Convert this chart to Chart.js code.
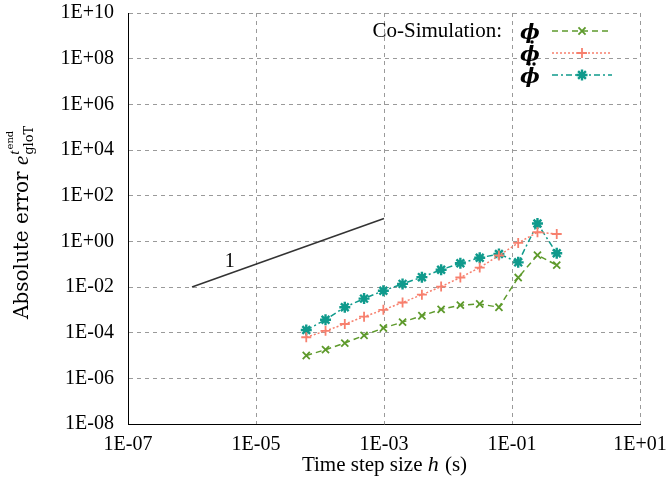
<!DOCTYPE html>
<html>
<head>
<meta charset="utf-8">
<script src="https://cdn.jsdelivr.net/npm/chart.js@4/dist/chart.umd.min.js"></script>
<style>
html,body{margin:0;padding:0;background:#fff;}
#wrap{width:667px;height:490px;}
</style>
</head>
<body>
<div id="wrap"><canvas id="c" width="667" height="490"></canvas></div>
<script>
// ---- data ----
const stepSizes = [6.1e-5, 1.22e-4, 2.44e-4, 4.88e-4, 9.77e-4, 1.95e-3, 3.91e-3, 7.81e-3, 1.56e-2, 3.13e-2, 6.25e-2, 0.125, 0.25, 0.5];
const errPhi    = [1.0e-5, 1.8e-5, 3.5e-5, 7.6e-5, 1.6e-4, 2.9e-4, 5.5e-4, 1.05e-3, 1.6e-3, 1.8e-3, 1.3e-3, 0.026, 0.25, 0.091];
const errPhiD   = [6.3e-5, 1.2e-4, 2.4e-4, 5.0e-4, 1.0e-3, 2.1e-3, 4.6e-3, 0.0104, 0.026, 0.071, 0.24, 0.85, 2.5, 2.1];
const errPhiDD  = [1.3e-4, 3.7e-4, 1.3e-3, 3.1e-3, 6.9e-3, 0.0137, 0.027, 0.057, 0.11, 0.19, 0.28, 0.12, 6.0, 0.30];
const slopeX    = [1e-6, 1e-3];
const slopeY    = [1e-2, 1e1];
const slopeLabel = {x: 3.9e-6, y: 0.13, text: '1'};
const seriesNames = ['\u03D5', '\u03D5', '\u03D5'];
const seriesDots = [0, 1, 2];
const legendTitle = 'Co-Simulation:';
const xTicks = [1e-7, 1e-5, 1e-3, 1e-1, 1e1];
const xTickLabels = ['1E-07', '1E-05', '1E-03', '1E-01', '1E+01'];
const yTicks = [1e-8, 1e-6, 1e-4, 1e-2, 1e0, 1e2, 1e4, 1e6, 1e8, 1e10];
const yTickLabels = ['1E-08', '1E-06', '1E-04', '1E-02', '1E+00', '1E+02', '1E+04', '1E+06', '1E+08', '1E+10'];

const FONT = "'Liberation Serif', 'DejaVu Serif', serif";
const FONT2 = "'DejaVu Serif', 'Liberation Serif', serif";
const toPts = (xs, ys) => xs.map((x, i) => ({x: x, y: ys[i]}));

const colors = ['#5e9a2c', '#f7806e', '#0f9a8c'];

const datasets = [
  {label: seriesNames[0], data: toPts(stepSizes, errPhi), borderColor: colors[0], backgroundColor: colors[0],
   borderDash: [6, 4], borderWidth: 1.5, pointStyle: 'crossRot', pointRadius: 5, pointBorderWidth: 1.8, pointBorderColor: colors[0]},
  {label: seriesNames[1], data: toPts(stepSizes, errPhiD), borderColor: colors[1], backgroundColor: colors[1],
   borderDash: [2, 2], borderWidth: 1.5, pointStyle: 'cross', pointRadius: 5, pointBorderWidth: 1.8, pointBorderColor: colors[1]},
  {label: seriesNames[2], data: toPts(stepSizes, errPhiDD), borderColor: colors[2], backgroundColor: colors[2],
   borderDash: [6, 3, 2, 3], borderWidth: 1.5, pointStyle: 'star', pointRadius: 5.5, pointBorderWidth: 2.4, pointBorderColor: colors[2]},
  {label: 'slope', data: toPts(slopeX, slopeY), borderColor: '#333333', borderWidth: 1.5, pointRadius: 0}
];

function drawMarker(ctx, ds, x, y) {
  const opts = {pointStyle: ds.pointStyle, radius: ds.pointRadius, rotation: 0, borderWidth: ds.pointBorderWidth};
  ctx.save();
  ctx.strokeStyle = ds.pointBorderColor; ctx.fillStyle = ds.backgroundColor; ctx.lineWidth = ds.pointBorderWidth;
  ctx.setLineDash([]);
  Chart.helpers.drawPoint(ctx, opts, x, y);
  ctx.restore();
}

const textPlugin = {
  id: 'textPlugin',
  afterDraw(chart) {
    const ctx = chart.ctx;
    const xs = chart.scales.x, ys = chart.scales.y;
    ctx.save();
    ctx.fillStyle = '#000';
    // slope label
    ctx.font = '20px ' + FONT;
    ctx.textAlign = 'center'; ctx.textBaseline = 'middle';
    ctx.fillText(slopeLabel.text, xs.getPixelForValue(slopeLabel.x), ys.getPixelForValue(slopeLabel.y));

    // x title
    const xt1 = 'Time step size ', xt2 = 'h', xt3 = ' (s)';
    ctx.textBaseline = 'alphabetic'; ctx.textAlign = 'left';
    ctx.font = '21px ' + FONT; const w1 = ctx.measureText(xt1).width, w3 = ctx.measureText(xt3).width;
    ctx.font = 'italic 22px ' + FONT; const w2 = ctx.measureText(xt2).width;
    let cx = (xs.left + xs.right) / 2 - (w1 + w2 + w3) / 2;
    const by = 471;
    ctx.font = '21px ' + FONT; ctx.fillText(xt1, cx, by); cx += w1;
    ctx.font = 'italic 22px ' + FONT; ctx.fillText(xt2, cx, by); cx += w2 + 1;
    ctx.font = '21px ' + FONT; ctx.fillText(xt3, cx, by);

    // y title (rotated)
    ctx.save();
    ctx.translate(28, 319);
    ctx.rotate(-Math.PI / 2);
    const a = 'Absolute error ';
    ctx.font = '20px ' + FONT2; const wa = ctx.measureText(a).width;
    let px = 0;
    ctx.fillText(a, px, 0); px += wa;
    ctx.font = 'italic 21px ' + FONT; const we = ctx.measureText('e').width;
    ctx.fillText('e', px, 0); px += we + 1;
    ctx.font = '13px ' + FONT2; ctx.fillText('gloT', px, 5);
    ctx.font = 'italic 15px ' + FONT; ctx.fillText('t', px, -9);
    const wt = ctx.measureText('t').width;
    ctx.font = '10px ' + FONT2; ctx.fillText('end', px + wt + 1, -15);
    ctx.restore();

    // legend
    ctx.font = '21px ' + FONT;
    ctx.textAlign = 'right'; ctx.textBaseline = 'middle';
    ctx.fillText(legendTitle, 502, 31);
    const rows = [31, 53, 75];
    for (let i = 0; i < 3; i++) {
      const ds = chart.data.datasets[i];
      ctx.font = 'italic bold 21px ' + FONT2;
      ctx.textAlign = 'center'; ctx.textBaseline = 'middle';
      ctx.fillText(ds.label, 530, rows[i] + 3);
      const nd = seriesDots[i];
      for (let k = 0; k < nd; k++) {
        const dx = nd === 1 ? 532 : 529 + k * 5;
        ctx.beginPath(); ctx.arc(dx, rows[i] - 11, 1.7, 0, Math.PI * 2); ctx.fill();
      }
      ctx.save();
      ctx.strokeStyle = ds.borderColor; ctx.lineWidth = ds.borderWidth;
      ctx.setLineDash(ds.borderDash);
      ctx.beginPath(); ctx.moveTo(552, rows[i]); ctx.lineTo(612, rows[i]); ctx.stroke();
      ctx.restore();
      drawMarker(ctx, ds, 582, rows[i]);
    }
    ctx.restore();
  }
};

function zeroPad(s) { s.paddingTop = 0; s.paddingBottom = 0; s.paddingLeft = 0; s.paddingRight = 0; }

const gridCfg = {color: '#9a9a9a', lineWidth: 1, drawTicks: false};
new Chart(document.getElementById('c'), {
  type: 'line',
  data: {datasets: datasets},
  plugins: [textPlugin],
  options: {
    responsive: false,
    animation: false,
    layout: {padding: {top: 13, right: 27, left: 0, bottom: 0}},
    plugins: {legend: {display: false}, tooltip: {enabled: false}},
    scales: {
      x: {
        type: 'logarithmic', min: 1e-7, max: 1e1,
        afterBuildTicks: s => { s.ticks = xTicks.map(v => ({value: v})); },
        afterFit: s => { s.height = 66; zeroPad(s); },
        ticks: {autoSkip: false, maxRotation: 0, padding: 9, color: '#000', font: {family: FONT, size: 20},
                callback: (v) => { const i = xTicks.indexOf(v); return i >= 0 ? xTickLabels[i] : ''; }},
        grid: gridCfg,
        border: {display: true, color: '#000', width: 1, dash: [4, 4]},
      },
      y: {
        type: 'logarithmic', min: 1e-8, max: 1e10,
        afterBuildTicks: s => { s.ticks = yTicks.map(v => ({value: v})); },
        afterFit: s => { s.width = 128; zeroPad(s); },
        ticks: {autoSkip: false, padding: 14, color: '#000', font: {family: FONT, size: 20},
                callback: (v) => { const i = yTicks.indexOf(v); return i >= 0 ? yTickLabels[i] : ''; }},
        grid: gridCfg,
        border: {display: true, color: '#000', width: 1, dash: [4, 4]},
      }
    }
  }
});
</script>
</body>
</html>
